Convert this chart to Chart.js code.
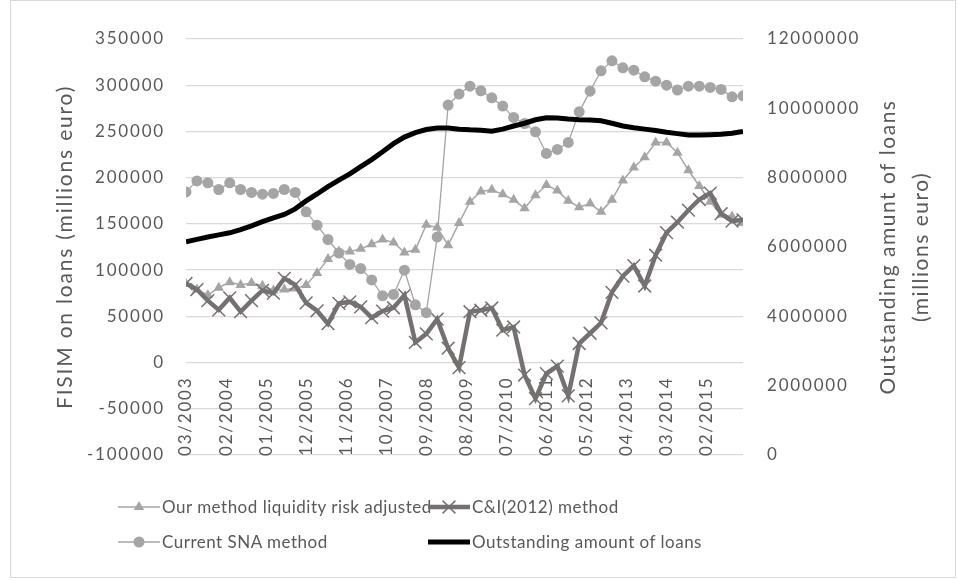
<!DOCTYPE html>
<html>
<head>
<meta charset="utf-8">
<script src="https://cdn.jsdelivr.net/npm/chart.js@4.4.1/dist/chart.umd.min.js"></script>
<style>
  html, body { margin: 0; padding: 0; background: #fff; }
  #wrap { position: relative; width: 958px; height: 580px; }
  #frame { position: absolute; left: 10px; top: 0; width: 946px; height: 578px; border: 1px solid #d9d9d9; box-sizing: border-box; }
  .lg { position: absolute; font: 17px Lato, sans-serif; letter-spacing: 0.5px; color: #595959; white-space: nowrap; line-height: 20px; }
  .lg svg { position: absolute; top: 0; }
</style>
</head>
<body>
<div id="wrap">
  <div id="frame"></div>
  <canvas id="chart"></canvas>
  <div id="legend"></div>
</div>
<script>
// quarterly observations, 03/2003 .. 12/2015
const QUARTERS = [
  "03/2003", "06/2003", "09/2003", "12/2003", "03/2004", "06/2004", "09/2004", "12/2004",
  "03/2005", "06/2005", "09/2005", "12/2005", "03/2006", "06/2006", "09/2006", "12/2006",
  "03/2007", "06/2007", "09/2007", "12/2007", "03/2008", "06/2008", "09/2008", "12/2008",
  "03/2009", "06/2009", "09/2009", "12/2009", "03/2010", "06/2010", "09/2010", "12/2010",
  "03/2011", "06/2011", "09/2011", "12/2011", "03/2012", "06/2012", "09/2012", "12/2012",
  "03/2013", "06/2013", "09/2013", "12/2013", "03/2014", "06/2014", "09/2014", "12/2014",
  "03/2015", "06/2015", "09/2015", "12/2015",
];
// axis labels every 11 months (date axis)
const X_TICK_LABELS = [
  "03/2003", "02/2004", "01/2005", "12/2005", "11/2006", "10/2007", "09/2008",
  "08/2009", "07/2010", "06/2011", "05/2012", "04/2013", "03/2014", "02/2015",
];

const OUR_METHOD = [
  85000, 79000, 73000, 81000, 87000, 84000, 86000, 83000, 78000, 79000,
  80000, 84000, 97000, 112000, 120000, 120000, 123000, 128000, 133000, 130000,
  119000, 122000, 149000, 146000, 127000, 151000, 174000, 185000, 187000, 182000,
  176000, 167000, 181000, 192000, 186000, 175000, 168000, 172000, 163000, 176000,
  197000, 211000, 222000, 238000, 238000, 227000, 208000, 191000, 174000, 160000,
  158000, 151000,
];
const CI_METHOD = [
  85500, 79000, 67000, 57000, 70000, 55000, 67000, 78000, 75000, 91000,
  84000, 64500, 56000, 42000, 64000, 65600, 60200, 48500, 55700, 59300,
  73000, 21800, 31000, 47000, 15500, -5500, 55000, 56600, 59000, 35000,
  38500, -13500, -39000, -11900, -3800, -36000, 20600, 31700, 43000, 76000,
  93500, 104800, 82800, 116100, 140500, 151800, 164800, 176400, 183200, 161000,
  153000, 154400,
];
const SNA_METHOD = [
  184600, 196500, 194400, 187200, 194400, 187200, 184000, 182100, 182900, 187200,
  184000, 163000, 148600, 133100, 118500, 106200, 101700, 89400, 72200, 73700,
  99900, 62500, 53900, 135900, 278500, 290400, 299000, 293900, 286400, 277400,
  265100, 258600, 249600, 226200, 230500, 238100, 271200, 293600, 315600, 326400,
  318800, 316300, 309100, 304400, 300100, 294700, 299000, 299000, 297600, 295500,
  287400, 288500,
];
const OUTSTANDING = [
  6150000, 6220000, 6290000, 6350000, 6410000, 6500000, 6610000, 6730000, 6840000, 6940000,
  7100000, 7330000, 7530000, 7740000, 7930000, 8110000, 8320000, 8520000, 8750000, 8980000,
  9170000, 9300000, 9390000, 9430000, 9430000, 9400000, 9380000, 9370000, 9340000, 9400000,
  9490000, 9570000, 9670000, 9730000, 9720000, 9690000, 9670000, 9660000, 9640000, 9570000,
  9490000, 9440000, 9400000, 9360000, 9310000, 9270000, 9230000, 9230000, 9240000, 9250000,
  9280000, 9330000,
];

const SERIES_NAMES = [
  "Our method liquidity risk adjusted",
  "C&I(2012) method",
  "Current SNA method",
  "Outstanding amount of loans",
];
const LEFT_TITLE = "FISIM on loans (millions euro)";
const RIGHT_TITLE = ["Outstanding amunt of loans", "(millions euro)"];

const LIGHT = "#a5a5a5";
const DARK = "#767171";
const TEXT = "#595959";
const FONT = "Lato, sans-serif";

// months elapsed since the first observation
function monthOffset(s) {
  const [m, y] = s.split("/").map(Number);
  const [m0, y0] = QUARTERS[0].split("/").map(Number);
  return (y - y0) * 12 + (m - m0);
}
const pts = (vals) => QUARTERS.map((q, i) => ({ x: monthOffset(q), y: vals[i] }));
const LAST = monthOffset(QUARTERS[QUARTERS.length - 1]);

const spacing = {
  id: "spacing",
  beforeUpdate(chart) { chart.ctx.letterSpacing = "1.8px"; },
  beforeDraw(chart) { chart.ctx.letterSpacing = "1.8px"; },
};

const rightTitle = {
  id: "rightTitle",
  afterDraw(chart) {
    const { ctx, chartArea } = chart;
    const cy = (chartArea.top + chartArea.bottom) / 2;
    ctx.save();
    ctx.letterSpacing = "1.5px";
    ctx.fillStyle = TEXT;
    ctx.font = `21px ${FONT}`;
    ctx.textAlign = "center";
    ctx.textBaseline = "middle";
    [888, 921].forEach((x, i) => {
      ctx.save();
      ctx.translate(x, cy);
      ctx.rotate(-Math.PI / 2);
      ctx.fillText(RIGHT_TITLE[i], 0, 0);
      ctx.restore();
    });
    ctx.restore();
  },
};

new Chart(document.getElementById("chart"), {
  type: "line",
  data: {
    datasets: [
      {
        label: SERIES_NAMES[3],
        data: pts(OUTSTANDING),
        yAxisID: "y2",
        borderColor: "#000",
        borderWidth: 5,
        pointRadius: 0,
        order: 0,
      },
      {
        label: SERIES_NAMES[2],
        data: pts(SNA_METHOD),
        yAxisID: "y",
        borderColor: LIGHT,
        borderWidth: 1.3,
        pointStyle: "circle",
        pointRadius: 5.5,
        pointBackgroundColor: LIGHT,
        pointBorderColor: LIGHT,
        pointBorderWidth: 0,
        order: 1,
      },
      {
        label: SERIES_NAMES[1],
        data: pts(CI_METHOD),
        yAxisID: "y",
        borderColor: DARK,
        borderWidth: 4.5,
        pointStyle: "crossRot",
        pointRadius: 9,
        pointBorderColor: DARK,
        pointBorderWidth: 1.5,
        order: 2,
      },
      {
        label: SERIES_NAMES[0],
        data: pts(OUR_METHOD),
        yAxisID: "y",
        borderColor: LIGHT,
        borderWidth: 1.5,
        pointStyle: "triangle",
        pointRadius: 6,
        pointBackgroundColor: LIGHT,
        pointBorderColor: LIGHT,
        pointBorderWidth: 0,
        order: 3,
      },
    ],
  },
  options: {
    responsive: true,
    maintainAspectRatio: false,
    animation: false,
    layout: { padding: { top: 39, left: 0, right: 0, bottom: 125 } },
    plugins: { legend: { display: false }, tooltip: { enabled: false } },
    scales: {
      x: {
        type: "linear",
        position: { y: 0 },
        min: 0,
        max: LAST,
        grid: { display: false, drawTicks: false, tickLength: 0 },
        border: { display: false },
        ticks: {
          stepSize: 11,
          includeBounds: false,
          autoSkip: false,
          minRotation: 90,
          maxRotation: 90,
          padding: 14,
          color: TEXT,
          font: { family: FONT, size: 17 },
          callback: (v) => X_TICK_LABELS[Math.round(v / 11)] ?? "",
        },
      },
      y: {
        position: "left",
        min: -100000,
        max: 350000,
        grid: { color: "#d9d9d9", lineWidth: 1.3, drawTicks: false },
        border: { display: false },
        afterFit(scale) { scale.width = 186; },
        ticks: {
          stepSize: 50000,
          padding: 21,
          color: TEXT,
          font: { family: FONT, size: 17 },
          callback: (v) => String(v),
        },
        title: {
          display: true,
          text: LEFT_TITLE,
          color: TEXT,
          font: { family: FONT, size: 21 },
          padding: { top: 53, bottom: 0 },
        },
      },
      y2: {
        position: "right",
        min: 0,
        max: 12000000,
        grid: { display: false, drawTicks: false },
        border: { display: false },
        afterFit(scale) { scale.width = 215; },
        ticks: {
          stepSize: 2000000,
          padding: 24,
          color: TEXT,
          font: { family: FONT, size: 17 },
          callback: (v) => String(v),
        },
      },
    },
  },
  plugins: [spacing, rightTitle],
});

// two-column legend as in the original
const legendItems = [
  { name: SERIES_NAMES[0], x: 118, y: 497, mark: "tri" },
  { name: SERIES_NAMES[1], x: 428, y: 497, mark: "x" },
  { name: SERIES_NAMES[2], x: 118, y: 532, mark: "dot" },
  { name: SERIES_NAMES[3], x: 428, y: 532, mark: "bold" },
];
function symbol(mark) {
  const w = 42;
  if (mark === "tri")
    return `<line x1="0" y1="10" x2="${w}" y2="10" stroke="${LIGHT}" stroke-width="1.5"/>` +
      `<polygon points="${w / 2},4 ${w / 2 + 5.2},13 ${w / 2 - 5.2},13" fill="${LIGHT}"/>`;
  if (mark === "dot")
    return `<line x1="0" y1="10" x2="${w}" y2="10" stroke="${LIGHT}" stroke-width="1.3"/>` +
      `<circle cx="${w / 2}" cy="10" r="5.5" fill="${LIGHT}"/>`;
  if (mark === "x")
    return `<line x1="0" y1="10" x2="${w}" y2="10" stroke="${DARK}" stroke-width="4.5"/>` +
      `<path d="M${w / 2 - 6.4} 3.6 L${w / 2 + 6.4} 16.4 M${w / 2 + 6.4} 3.6 L${w / 2 - 6.4} 16.4" stroke="${DARK}" stroke-width="1.5"/>`;
  return `<line x1="0" y1="10" x2="${w}" y2="10" stroke="#000" stroke-width="5"/>`;
}
document.getElementById("legend").innerHTML = legendItems.map((it) =>
  `<div class="lg" style="left:${it.x}px;top:${it.y}px;padding-left:44px">` +
  `<svg width="42" height="20" style="left:0">${symbol(it.mark)}</svg>${it.name.replace("&", "&amp;")}</div>`
).join("");
</script>
</body>
</html>
